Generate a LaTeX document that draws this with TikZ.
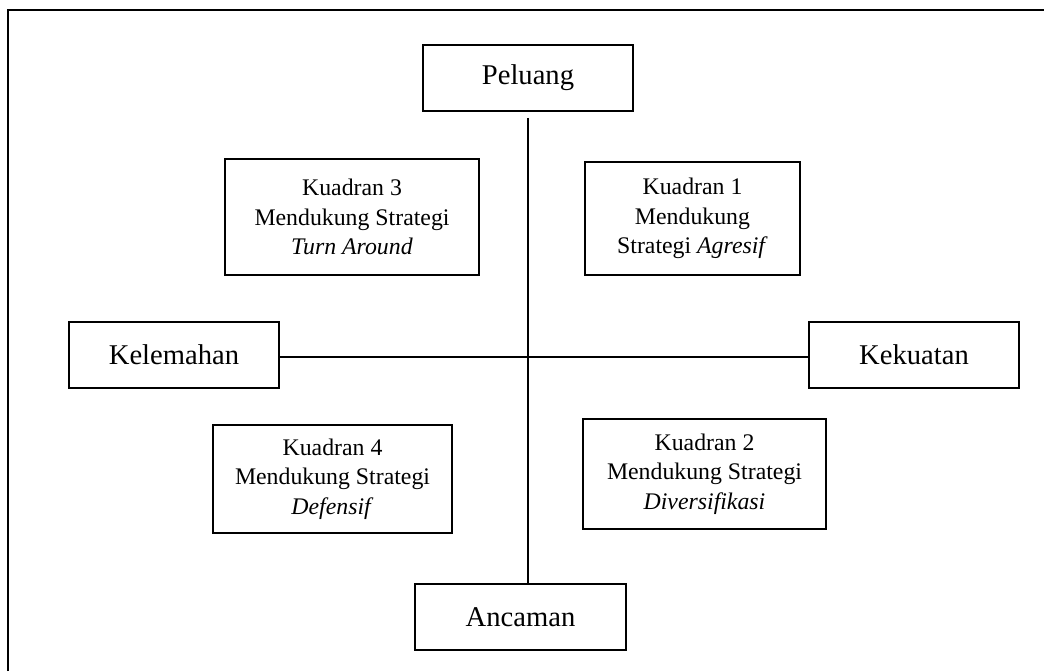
\documentclass[tikz,border=0pt]{standalone}
\usepackage{fontspec}
\setmainfont{Liberation Serif}
\begin{document}
\begin{tikzpicture}[x=0.5pt,y=-0.5pt,
  box/.style={draw, line width=0.8pt, inner sep=0pt, align=center, font=\fontsize{14.3}{17}\selectfont},
  quad/.style={draw, line width=0.8pt, inner sep=0pt, align=center, font=\fontsize{11.9}{14.8}\selectfont},
  axis/.style={line width=0.8pt}]
\useasboundingbox (0,0) rectangle (1044,671);
\draw[line width=1pt] (8,671) -- (8,10) -- (1044,10);
\node[box, minimum width=105pt, minimum height=33pt] (pel) at (528,78) {Peluang};
\node[box, minimum width=105.5pt, minimum height=33pt] (anc) at (520.5,617) {Ancaman};
\node[box, minimum width=105pt, minimum height=33pt] (kel) at (174,355) {Kelemahan};
\node[box, minimum width=105pt, minimum height=33pt] (kek) at (914,355) {Kekuatan};
\node[quad, minimum width=127pt, minimum height=58pt] (q3) at (352,217) {Kuadran 3\\Mendukung Strategi\\\textit{Turn Around}};
\node[quad, minimum width=107.5pt, minimum height=56.5pt] (q1) at (692.5,218.5) {Kuadran 1\\Mendukung\\Strategi \textit{Agresif}};
\node[quad, minimum width=119.5pt, minimum height=54pt] (q4) at (332.5,479) {Kuadran 4\\Mendukung Strategi\\\textit{Defensif}};
\node[quad, minimum width=121.5pt, minimum height=55pt] (q2) at (704.5,474) {Kuadran 2\\Mendukung Strategi\\\textit{Diversifikasi}};
\draw[axis] ([yshift=-1pt]kel.east) -- ([yshift=-1pt]kek.west);
\draw[axis] ([yshift=-3pt]pel.south) -- (pel.south |- anc.north);
\end{tikzpicture}
\end{document}
